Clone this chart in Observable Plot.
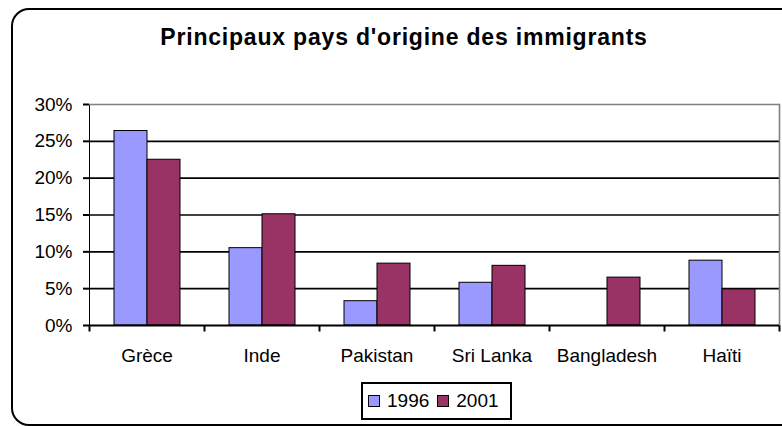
<!DOCTYPE html>
<html>
<head>
<meta charset="utf-8">
<script src="https://cdn.jsdelivr.net/npm/d3@7"></script>
<script src="https://cdn.jsdelivr.net/npm/@observablehq/plot@0.6"></script>
<style>
  html, body { margin: 0; padding: 0; background: #fff; }
  #wrap { position: relative; width: 782px; height: 426px; overflow: hidden; font-family: "Liberation Sans", Arial, sans-serif; }
  #border { position: absolute; left: 11px; top: 8px; width: 800px; height: 414px; border: 2px solid #000; border-radius: 18px; }
  #title { position: absolute; left: 0; top: 26px; width: 808px; text-align: center; font-weight: bold; font-size: 23px; line-height: 23px; letter-spacing: 0.8px; color: #000; }
  #chart { position: absolute; left: 0; top: 0; }
  #legend { position: absolute; left: 361px; top: 382px; height: 34px; padding: 0 11px 0 5px; border: 2px solid #000; background: #fff; display: flex; align-items: center; font-size: 19px; color: #000; }
  .sw { display: inline-block; width: 10px; height: 10px; border: 1px solid #000; margin-right: 7px; }
  .item { display: flex; align-items: center; margin-right: 8px; }
  .item:last-child { margin-right: 0; }
</style>
</head>
<body>
<div id="wrap">
  <div id="border"></div>
  <div id="chart"></div>
  <div id="title"></div>
  <div id="legend"></div>
</div>
<script>
const countries = ["Grèce", "Inde", "Pakistan", "Sri Lanka", "Bangladesh", "Haïti"];
const years = ["1996", "2001"];
const values1996 = [26.4, 10.5, 3.3, 5.8, null, 8.8];
const values2001 = [22.5, 15.1, 8.4, 8.1, 6.5, 4.9];
const yTicks = [0, 5, 10, 15, 20, 25, 30];
const colors = ["#9999FF", "#993366"];
const titleText = "Principaux pays d'origine des immigrants";

document.getElementById("title").textContent = titleText;

const rows = [];
countries.forEach((c, i) => {
  rows.push({country: c, year: years[0], value: values1996[i]});
  rows.push({country: c, year: years[1], value: values2001[i]});
});

const tickDown = { draw(ctx) { ctx.moveTo(0, 0); ctx.lineTo(0, 6); } };

const chart = Plot.plot({
  width: 782,
  height: 426,
  marginLeft: 87,
  marginRight: 1,
  marginTop: 104,
  marginBottom: 101,
  style: { fontFamily: "'Liberation Sans', Arial, sans-serif", fontSize: "19px", color: "#000", background: "transparent" },
  fx: { domain: countries, paddingInner: 0, paddingOuter: 0, label: null, tickSize: 0, tickPadding: 23, axis: "bottom" },
  x: { domain: years, paddingInner: 0, paddingOuter: 0.7, axis: null },
  y: { domain: [0, 30], ticks: yTicks, tickFormat: d => d + "%", tickSize: 6, tickPadding: 11, label: null, line: true },
  color: { domain: years, range: colors },
  marks: [
    Plot.ruleY(yTicks.slice(1, -1), { stroke: "#000", strokeWidth: 1.6 }),
    Plot.ruleY([30], { stroke: "#808080", strokeWidth: 1.6 }),
    Plot.frame({ anchor: "right", facetAnchor: "right", stroke: "#808080", strokeWidth: 1.6 }),
    Plot.barY(rows.filter(d => d.value != null), { fx: "country", x: "year", y: "value", fill: "year", stroke: "#000", strokeWidth: 1 }),
    Plot.ruleY([0], { stroke: "#000", strokeWidth: 2 }),
    Plot.dot([0], { frameAnchor: "bottom-left", symbol: tickDown, fill: "none", stroke: "#000", strokeWidth: 2 }),
    Plot.dot([0], { frameAnchor: "bottom-right", facetAnchor: "right", symbol: tickDown, fill: "none", stroke: "#000", strokeWidth: 2 })
  ]
});
chart.querySelectorAll("g[aria-label='y-axis tick']").forEach(g => { g.setAttribute("stroke-width", "2"); });
document.getElementById("chart").appendChild(chart);

const legend = document.getElementById("legend");
years.forEach((y, i) => {
  const item = document.createElement("span");
  item.className = "item";
  const sw = document.createElement("span");
  sw.className = "sw";
  sw.style.background = colors[i];
  item.appendChild(sw);
  const t = document.createElement("span");
  t.textContent = y;
  item.appendChild(t);
  legend.appendChild(item);
});
</script>
</body>
</html>
